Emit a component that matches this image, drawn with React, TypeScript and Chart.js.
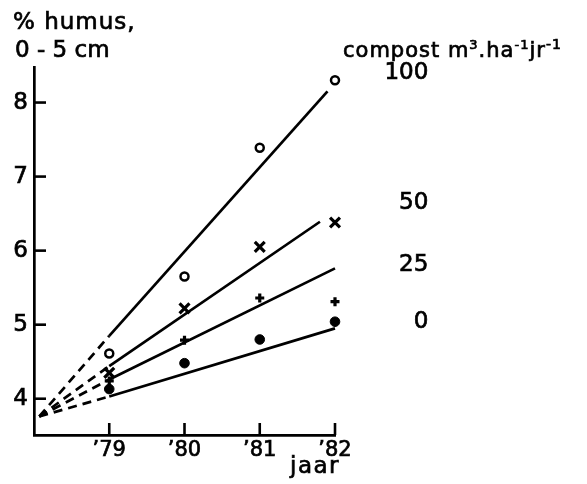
import React, { useEffect, useRef } from "react";
import { Chart, registerables } from "chart.js";
Chart.register(...registerables);

// ---- data ----
const yearTicks = [1979, 1980, 1981, 1982];
const yearLabels = ["’79", "’80", "’81", "’82"];
const humusTicks = [4, 5, 6, 7, 8];
const sampleYears = [1979, 1980, 1981, 1982];
const humus100 = [4.61, 5.65, 7.39, 8.3];
const humus50 = [4.35, 5.22, 6.05, 6.38];
const humus25 = [4.24, 4.79, 5.36, 5.31];
const humus0 = [4.13, 4.48, 4.8, 5.04];
// fitted lines: dashed from common origin to 1979, solid from 1979 to end
const originYear = 1978.07;
const originHumus = 3.76;
const fitStartYear = 1979;
const fitStart = [4.85, 4.44, 4.26, 4.03];
const fitEndYear = [1981.9, 1981.8, 1982, 1982];
const fitEnd = [8.15, 6.39, 5.76, 4.95];
// compost rate labels (right side)
const rateLabels = ["100", "50", "25", "0"];
const rateLabelHumus = [8.41, 6.66, 5.82, 5.05];
const rateLabelYear = 1983.24;

const FONT = "'DejaVu Sans'";

const annotPlugin = {
  id: "annot",
  afterDraw(chart: any) {
    const { ctx } = chart;
    const x = chart.scales.x;
    const y = chart.scales.y;
    ctx.save();
    ctx.strokeStyle = "#000";
    ctx.fillStyle = "#000";
    ctx.lineWidth = 2.6;
    ctx.lineCap = "butt";
    humusTicks.forEach((v) => {
      const py = y.getPixelForValue(v);
      ctx.beginPath();
      ctx.moveTo(x.left, py);
      ctx.lineTo(x.left + 12, py);
      ctx.stroke();
    });
    yearTicks.forEach((v) => {
      const px = x.getPixelForValue(v);
      ctx.beginPath();
      ctx.moveTo(px, y.bottom);
      ctx.lineTo(px, y.bottom - 12);
      ctx.stroke();
    });

    const txt = (t: string, px: number, py: number, size: number, spacing = 0) => {
      ctx.font = `${size}px ${FONT}`;
      (ctx as any).letterSpacing = `${spacing}px`;
      ctx.lineWidth = 0.7;
      ctx.strokeText(t, px, py);
      ctx.fillText(t, px, py);
      const w = ctx.measureText(t).width;
      (ctx as any).letterSpacing = "0px";
      return w;
    };

    // axis title
    ctx.textBaseline = "alphabetic";
    ctx.textAlign = "left";
    txt("% humus,", 13, 29, 23, 1);
    txt("0 - 5 cm", 15, 57, 23, 0);

    // x title
    txt("jaar", 290, 473, 23, 1.5);

    // legend header with superscripts
    let cx = 343;
    const parts: [string, number, number][] = [
      ["compost m", 21, 0],
      ["3", 13, -8],
      [".ha", 21, 0],
      ["-1", 13, -8],
      ["jr", 21, 0],
      ["-1", 14, -8],
    ];
    parts.forEach(([t, s, dy]) => {
      cx += txt(t, cx, 57 + dy, s, 1);
    });

    // rate labels
    ctx.textAlign = "right";
    ctx.textBaseline = "middle";
    rateLabels.forEach((t, i) => {
      txt(t, x.getPixelForValue(rateLabelYear), y.getPixelForValue(rateLabelHumus[i]) + 1, 23);
    });
    ctx.restore();
  },
};

function pts(vals: number[]) {
  return sampleYears.map((yr, i) => ({ x: yr, y: vals[i] }));
}

export default function App() {
  const ref = useRef<HTMLCanvasElement>(null);
  useEffect(() => {
    if (!ref.current) return;
    const lineCommon = {
      showLine: true,
      pointRadius: 0,
      borderColor: "#000",
      borderWidth: 2.7,
      clip: false as any,
    };
    const lineSets: any[] = [];
    for (let i = 0; i < 4; i++) {
      lineSets.push({
        ...lineCommon,
        data: [
          { x: originYear, y: originHumus },
          { x: fitStartYear, y: fitStart[i] },
        ],
        borderDash: [9, 6],
      });
      lineSets.push({
        ...lineCommon,
        data: [
          { x: fitStartYear, y: fitStart[i] },
          { x: fitEndYear[i], y: fitEnd[i] },
        ],
      });
    }
    const tickFont = { family: "DejaVu Sans", size: 21 };
    const chart = new Chart(ref.current, {
      type: "scatter",
      data: {
        datasets: [
          ...lineSets,
          {
            data: pts(humus100),
            pointStyle: "circle",
            pointRadius: 4,
            pointBorderWidth: 2.5,
            pointBackgroundColor: "#fff",
            pointBorderColor: "#000",
            clip: false as any,
          },
          {
            data: pts(humus50),
            pointStyle: "crossRot",
            pointRadius: 7,
            pointBorderWidth: 3.2,
            pointBorderColor: "#000",
            clip: false as any,
          },
          {
            data: pts(humus25),
            pointStyle: "cross",
            pointRadius: 4.5,
            pointBorderWidth: 3.2,
            pointBorderColor: "#000",
            clip: false as any,
          },
          {
            data: pts(humus0),
            pointStyle: "circle",
            pointRadius: 4.8,
            pointBorderWidth: 1,
            pointBackgroundColor: "#000",
            pointBorderColor: "#000",
            clip: false as any,
          },
        ],
      },
      options: {
        animation: false,
        responsive: false,
        events: [],
        layout: { padding: { left: 0, top: 67, right: 252, bottom: 0 } },
        plugins: { legend: { display: false }, tooltip: { enabled: false } },
        scales: {
          x: {
            type: "linear",
            min: 1978,
            max: 1982,
            afterFit: (s: any) => {
              s.height = 49;
            },
            afterBuildTicks: (s: any) => {
              s.ticks = yearTicks.map((v) => ({ value: v }));
            },
            grid: { display: false, drawTicks: false },
            border: { display: true, color: "#000", width: 2.7 },
            ticks: {
              color: "#000",
              font: tickFont,
              textStrokeColor: "#000",
              textStrokeWidth: 0.7,
              padding: 3,
              maxRotation: 0,
              autoSkip: false,
              callback: (v: any) => {
                const i = yearTicks.indexOf(Number(v));
                return i >= 0 ? yearLabels[i] : "";
              },
            } as any,
          },
          y: {
            type: "linear",
            min: 3.51,
            max: 8.48,
            afterFit: (s: any) => {
              s.width = 34;
            },
            afterBuildTicks: (s: any) => {
              s.ticks = humusTicks.map((v) => ({ value: v }));
            },
            grid: { display: false, drawTicks: false },
            border: { display: true, color: "#000", width: 2.7 },
            ticks: {
              color: "#000",
              font: { family: "DejaVu Sans", size: 23 },
              textStrokeColor: "#000",
              textStrokeWidth: 0.7,
              padding: 6,
              autoSkip: false,
              callback: (v: any) => String(v),
            } as any,
          },
        },
      },
      plugins: [annotPlugin],
    });
    return () => chart.destroy();
  }, []);
  return (
    <div style={{ position: "fixed", left: 0, top: 0, width: 587, height: 484, background: "#fff" }}>
      <canvas ref={ref} width={587} height={484} />
    </div>
  );
}
